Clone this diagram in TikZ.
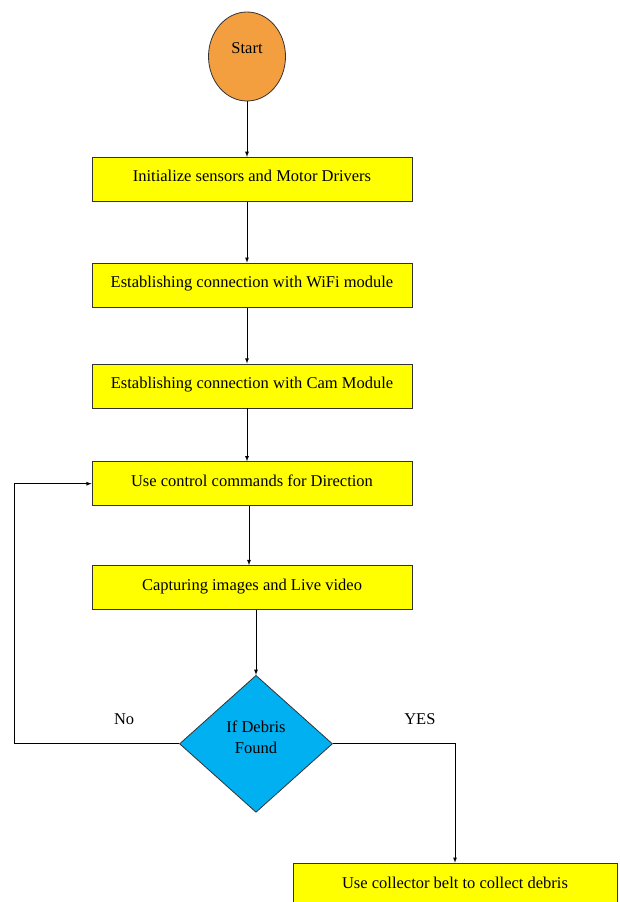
\documentclass[tikz,border=0pt]{standalone}
\usepackage{fontspec}
\setmainfont{Liberation Serif}
\usepackage{tikz}
\usetikzlibrary{arrows, shapes, shapes.geometric, positioning}

\definecolor{startorange}{RGB}{243,159,64}
\definecolor{stepyellow}{RGB}{255,255,0}
\definecolor{checkblue}{RGB}{0,176,240}

\begin{document}
\begin{tikzpicture}[
    font=\fontsize{16.5}{21}\selectfont,
    startnode/.style={ellipse, draw=black!80, fill=startorange, line width=0.8pt, minimum width=77pt, minimum height=89pt, inner sep=0pt},
    stepbox/.style={rectangle, draw=black!80, fill=stepyellow, line width=0.8pt, minimum width=320pt, minimum height=44pt, inner sep=0pt, text height=12pt, text depth=7pt},
    checknode/.style={diamond, draw=black!80, fill=checkblue, line width=0.8pt, minimum width=153pt, minimum height=137pt, inner sep=0pt}]
            \useasboundingbox (0,0) rectangle (619pt,-902pt);
            \node[startnode] (start) at (247pt,-56.5pt) {\raisebox{3pt}[0pt][0pt]{Start}};
            \node[stepbox] (init) [below = 55.5pt of start, xshift=5pt] {Initialize sensors and Motor Drivers};
            \node[stepbox] (wifi) [below = 61pt of init] {Establishing connection with WiFi module};
            \node[stepbox] (cam) [below = 56pt of wifi] {Establishing connection with Cam Module};
            \node[stepbox] (dir) [below = 53pt of cam] {Use control commands for Direction};
            \node[stepbox] (capt) [below = 59pt of dir] {Capturing images and Live video};
            \node[checknode] (debris) [below = 65pt of capt, xshift=4pt] {\raisebox{1pt}[0pt][0pt]{\begin{tabular}{@{}c@{}}If Debris\\Found\end{tabular}}};
            \node[stepbox, minimum width=324pt, minimum height=50pt] (belt) [below = 50pt of debris, xshift=199pt] {};
            \node (belttext) at ([yshift=-20pt]belt.north) {Use collector belt to collect debris};

            \node (no) at ([shift={(-55pt,25pt)}]debris.west) {No};
            \node (yes) at ([shift={(87pt,25pt)}]debris.east) {YES};

            \path[-latex, thick] (start) edge (start |- init.north);
            \path[-latex, thick] (init.south -| start) edge (wifi.north -| start);
            \path[-latex, thick] (wifi.south -| start) edge (cam.north -| start);
            \path[-latex, thick] (cam.south -| start) edge (dir.north -| start);
            \path[-latex, thick] ([xshift=-3pt]dir.south) edge ([xshift=-3pt]capt.north);
            \path[-latex, thick] (capt.south -| debris) edge (debris.north);
            \draw[-latex, thick] (debris.west) -- ++(-165pt,0) |- (dir.west);
            \draw[-latex, thick] (debris.east) -| (belt.north);
        \end{tikzpicture}
\end{document}
